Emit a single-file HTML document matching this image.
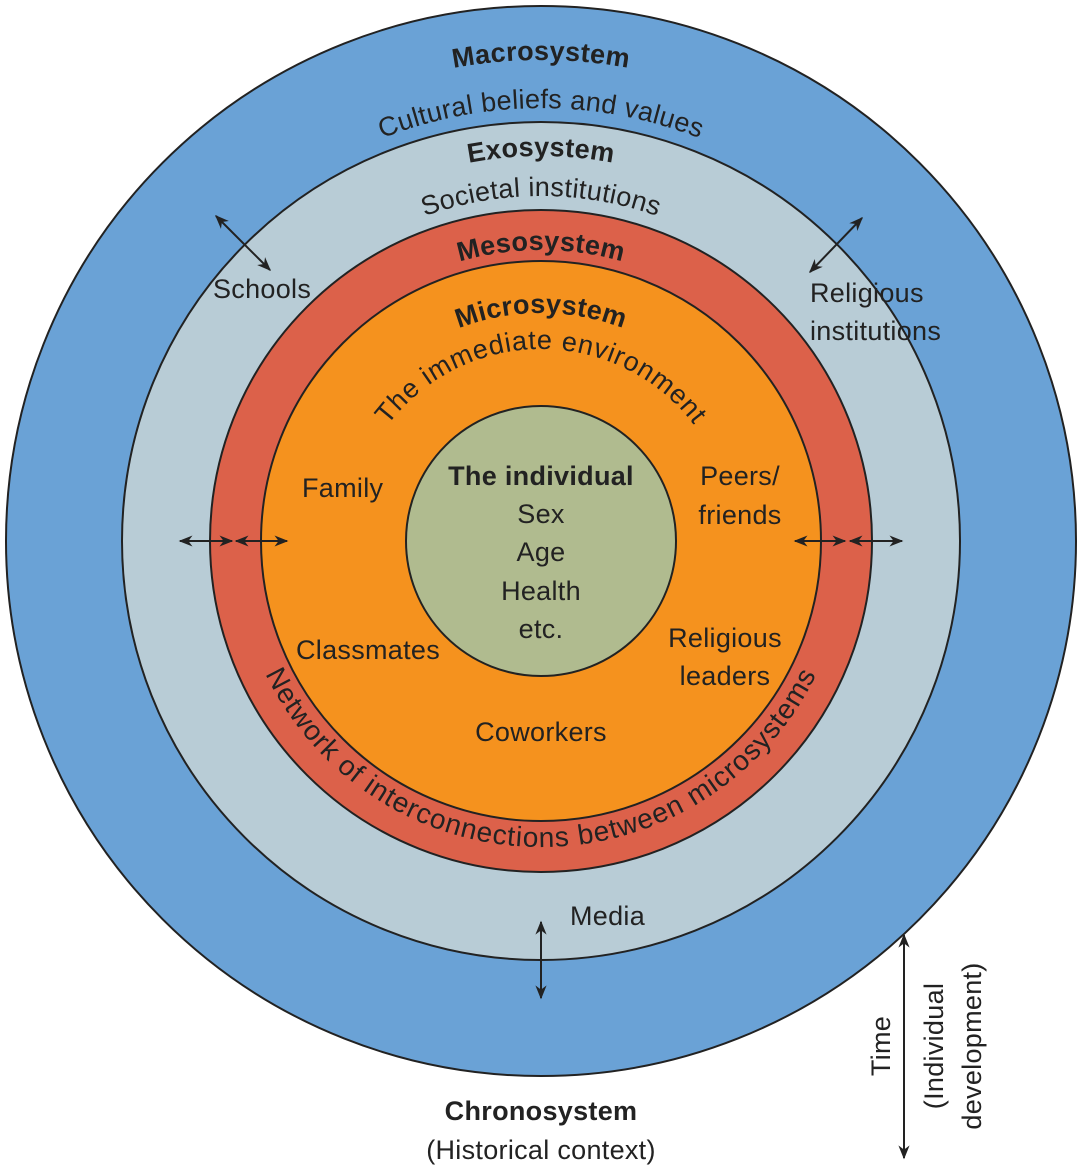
<!DOCTYPE html>
<html><head><meta charset="utf-8"><style>
html,body{margin:0;padding:0;background:#fff;}
svg{display:block;font-family:"Liberation Sans",Arial,sans-serif;}
</style></head><body>
<svg width="1082" height="1170" viewBox="0 0 1082 1170" xmlns="http://www.w3.org/2000/svg">
<defs>
<marker id="ah" viewBox="0 0 10 10" refX="9" refY="5" markerWidth="7" markerHeight="7" orient="auto-start-reverse"><path d="M0,1 L10,5 L0,9 L3,5 z" fill="#222"/></marker>
<path id="pMacro" d="M60,541 A481,481 0 0 1 1022,541"/>
<path id="pCult" d="M108,541 A433,433 0 0 1 974,541"/>
<path id="pExo" d="M156,541 A385,385 0 0 1 926,541"/>
<path id="pSoc" d="M196,541 A345,345 0 0 1 886,541"/>
<path id="pMeso" d="M250,541 A291,291 0 0 1 832,541"/>
<path id="pMicro" d="M313,541 A228,228 0 0 1 769,541"/>
<path id="pImm" d="M349,541 A192,192 0 0 1 733,541"/>
<path id="pNet" d="M235,541 A306,306 0 0 0 847,541"/>
</defs>
<circle cx="541" cy="541" r="535" fill="#6aa2d6" stroke="#222" stroke-width="2"/>
<circle cx="541" cy="541" r="419" fill="#b8ccd6" stroke="#222" stroke-width="2"/>
<circle cx="541" cy="541" r="331" fill="#dc614a" stroke="#222" stroke-width="2"/>
<circle cx="541" cy="541" r="280" fill="#f5921e" stroke="#222" stroke-width="2"/>
<circle cx="541" cy="541" r="135" fill="#b0bb8f" stroke="#222" stroke-width="2"/>

<g fill="#222" font-size="27" letter-spacing="0.3">
<text font-weight="bold" font-size="27"><textPath href="#pMacro" startOffset="50%" text-anchor="middle">Macrosystem</textPath></text>
<text><textPath href="#pCult" startOffset="50%" text-anchor="middle">Cultural beliefs and values</textPath></text>
<text font-weight="bold" font-size="27"><textPath href="#pExo" startOffset="50%" text-anchor="middle">Exosystem</textPath></text>
<text><textPath href="#pSoc" startOffset="50%" text-anchor="middle">Societal institutions</textPath></text>
<text font-weight="bold" font-size="27"><textPath href="#pMeso" startOffset="50%" text-anchor="middle">Mesosystem</textPath></text>
<text font-weight="bold" font-size="27"><textPath href="#pMicro" startOffset="50%" text-anchor="middle">Microsystem</textPath></text>
<text letter-spacing="0.8"><textPath href="#pImm" startOffset="50%" text-anchor="middle">The immediate environment</textPath></text>
<text font-size="28" letter-spacing="1"><textPath href="#pNet" startOffset="50%" text-anchor="middle">Network of interconnections between microsystems</textPath></text>

<text x="213" y="298">Schools</text>
<text x="810" y="302">Religious</text>
<text x="810" y="340">institutions</text>
<text x="302" y="497">Family</text>
<text x="740" y="485" text-anchor="middle">Peers/</text>
<text x="740" y="524" text-anchor="middle">friends</text>
<text x="541" y="485" text-anchor="middle" font-weight="bold" font-size="27">The individual</text>
<text x="541" y="523" text-anchor="middle">Sex</text>
<text x="541" y="561" text-anchor="middle">Age</text>
<text x="541" y="600" text-anchor="middle">Health</text>
<text x="541" y="638" text-anchor="middle">etc.</text>
<text x="296" y="659">Classmates</text>
<text x="725" y="647" text-anchor="middle">Religious</text>
<text x="725" y="685" text-anchor="middle">leaders</text>
<text x="541" y="741" text-anchor="middle">Coworkers</text>
<text x="570" y="925">Media</text>
<text x="541" y="1120" text-anchor="middle" font-weight="bold" font-size="27">Chronosystem</text>
<text x="541" y="1159" text-anchor="middle">(Historical context)</text>
<text transform="translate(890,1046) rotate(-90)" text-anchor="middle">Time</text>
<text transform="translate(943,1046) rotate(-90)" text-anchor="middle">(Individual</text>
<text transform="translate(981,1046) rotate(-90)" text-anchor="middle">development)</text>
</g>

<g stroke="#222" stroke-width="2" marker-start="url(#ah)" marker-end="url(#ah)">
<line x1="216" y1="216" x2="270" y2="270"/>
<line x1="862" y1="218" x2="810" y2="272"/>
<line x1="180" y1="541" x2="232" y2="541"/>
<line x1="236" y1="541" x2="287" y2="541"/>
<line x1="795" y1="541" x2="845" y2="541"/>
<line x1="850" y1="541" x2="902" y2="541"/>
<line x1="541" y1="922" x2="541" y2="998"/>
<line x1="904" y1="935" x2="904" y2="1158"/>
</g>
</svg>
</body></html>
